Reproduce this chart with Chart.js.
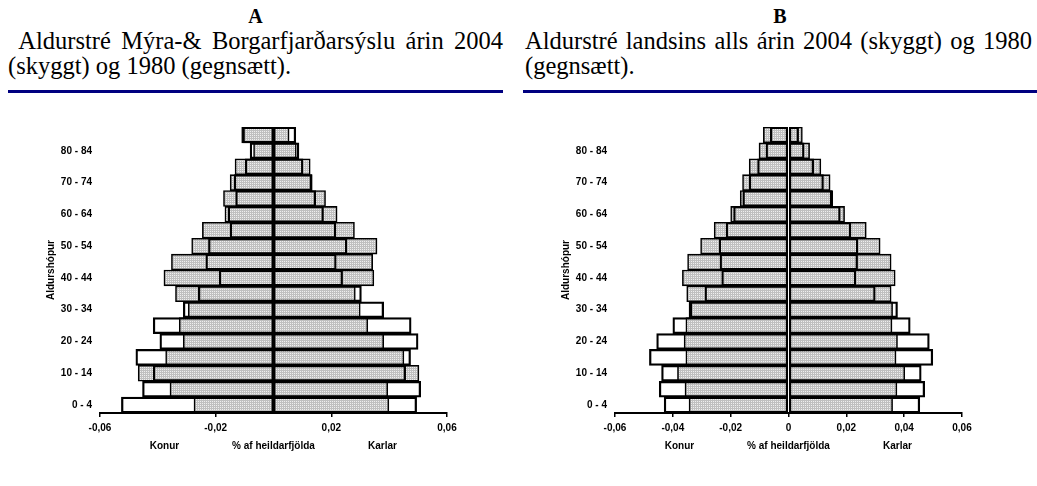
<!DOCTYPE html>
<html>
<head>
<meta charset="utf-8">
<script src="https://cdn.jsdelivr.net/npm/chart.js@4.4.1/dist/chart.umd.min.js"></script>
<style>
  body { margin: 0; width: 1037px; height: 486px; background: #fff; position: relative; overflow: hidden; }
  .head { position: absolute; top: 4px; font-family: "Liberation Serif", "Times New Roman", serif; color: #000; border-bottom: 3px solid #000080; padding-bottom: 12px; }
  .head .letter { text-align: center; font-weight: bold; font-size: 20px; line-height: 24px; }
  .head .txt { font-size: 24.5px; line-height: 25px; text-align: justify; }
  #headA { left: 8px; width: 495px; }
  #headB { left: 523px; width: 514px; }
  #headB .txt { padding-left: 2px; padding-right: 5px; }
  .wrap { position: absolute; top: 105px; width: 515px; height: 381px; }
  #wrapA { left: 0; }
  #wrapB { left: 515px; }
</style>
</head>
<body>
<div class="head" id="headA">
  <div class="letter">A</div>
  <div class="txt">&nbsp;Aldurstré Mýra-&amp; Borgarfjarðarsýslu árin 2004 (skyggt) og 1980 (gegnsætt).</div>
</div>
<div class="head" id="headB">
  <div class="letter">B</div>
  <div class="txt">Aldurstré landsins alls árin 2004 (skyggt) og 1980 (gegnsætt).</div>
</div>
<div class="wrap" id="wrapA"><canvas id="chartA" width="515" height="381"></canvas></div>
<div class="wrap" id="wrapB"><canvas id="chartB" width="515" height="381"></canvas></div>

<script>
// age groups, bottom to top
const ageGroups = ["0 - 4", "5 - 9", "10 - 14", "15 - 19", "20 - 24", "25 - 29", "30 - 34", "35 - 39",
  "40 - 44", "45 - 49", "50 - 54", "55 - 59", "60 - 64", "65 - 69", "70 - 74", "75 - 79", "80 - 84", "85 +"];

// A: Mýra- & Borgarfjarðarsýsla (share of total population)
const womenA2004 = [0.0275, 0.0358, 0.0468, 0.0373, 0.0312, 0.0326, 0.0295, 0.0339, 0.0379, 0.0353, 0.0283, 0.0246, 0.0168, 0.0173, 0.0150, 0.0133, 0.0069, 0.0110];
const womenA1980 = [0.0526, 0.0453, 0.0416, 0.0476, 0.0393, 0.0416, 0.0312, 0.0260, 0.0188, 0.0234, 0.0225, 0.0150, 0.0157, 0.0131, 0.0136, 0.0098, 0.0081, 0.0106];
const menA2004 = [0.0399, 0.0395, 0.0503, 0.0451, 0.0381, 0.0326, 0.0300, 0.0283, 0.0347, 0.0343, 0.0358, 0.0280, 0.0220, 0.0180, 0.0134, 0.0127, 0.0079, 0.0054];
const menA1980 = [0.0495, 0.0509, 0.0457, 0.0474, 0.0500, 0.0476, 0.0381, 0.0304, 0.0239, 0.0217, 0.0254, 0.0216, 0.0173, 0.0146, 0.0132, 0.0102, 0.0088, 0.0077];

// B: landið allt
const womenB2004 = [0.0344, 0.0358, 0.0384, 0.0355, 0.0361, 0.0355, 0.0344, 0.0352, 0.0367, 0.0349, 0.0304, 0.0257, 0.0200, 0.0167, 0.0159, 0.0136, 0.0102, 0.0087];
const womenB1980 = [0.0430, 0.0447, 0.0439, 0.0481, 0.0456, 0.0400, 0.0340, 0.0289, 0.0231, 0.0237, 0.0240, 0.0216, 0.0190, 0.0158, 0.0136, 0.0107, 0.0078, 0.0063];
const menB2004 = [0.0360, 0.0375, 0.0402, 0.0372, 0.0377, 0.0358, 0.0360, 0.0355, 0.0369, 0.0355, 0.0317, 0.0269, 0.0194, 0.0153, 0.0144, 0.0112, 0.0073, 0.0048];
const menB1980 = [0.0454, 0.0471, 0.0459, 0.0499, 0.0487, 0.0421, 0.0377, 0.0300, 0.0233, 0.0239, 0.0240, 0.0216, 0.0179, 0.0150, 0.0121, 0.0087, 0.0054, 0.0035];

// x tick values
const ticksA = [-0.06, -0.02, 0.02, 0.06];
const ticksB = [-0.06, -0.04, -0.02, 0, 0.02, 0.04, 0.06];

const axisFont = { family: "'Liberation Sans', Arial, sans-serif", size: 10, weight: "bold" };

function dotPattern() {
  const c = document.createElement("canvas");
  c.width = 2; c.height = 2;
  const g = c.getContext("2d");
  g.fillStyle = "#c0c0c0";
  g.fillRect(0, 0, 2, 2);
  g.fillStyle = "#efefef";
  g.fillRect(0, 0, 1, 1);
  return g.createPattern(c, "repeat");
}

// Konur / Karlar under the axis
const sideLabels = {
  id: "sideLabels",
  afterDraw(chart) {
    const ctx = chart.ctx;
    const x = chart.scales.x;
    ctx.save();
    ctx.font = "bold 10px 'Liberation Sans', Arial, sans-serif";
    ctx.fillStyle = "#000";
    ctx.textAlign = "center";
    ctx.textBaseline = "middle";
    const y = x.bottom - 12;
    ctx.fillText("Konur", x.getPixelForValue(-0.0377), y);
    ctx.fillText("Karlar", x.getPixelForValue(0.0377), y);
    ctx.restore();
  }
};

function createPyramid(id, women2004, men2004, women1980, men1980, tickValues) {
  const ctx = document.getElementById(id).getContext("2d");
  const shade = dotPattern();
  const common = {
    borderColor: "#000",
    borderWidth: 1.6,
    borderSkipped: false,
    barPercentage: 1,
    categoryPercentage: 1,
    grouped: false,
  };
  return new Chart(ctx, {
    type: "bar",
    data: {
      labels: ageGroups,
      datasets: [
        { label: "Konur 1980", data: women1980.map(v => -v), backgroundColor: "rgba(0,0,0,0)", order: 0, ...common },
        { label: "Karlar 1980", data: men1980, backgroundColor: "rgba(0,0,0,0)", order: 0, ...common },
        { label: "Konur 2004", data: women2004.map(v => -v), backgroundColor: shade, order: 1, ...common },
        { label: "Karlar 2004", data: men2004, backgroundColor: shade, order: 1, ...common },
      ],
    },
    options: {
      indexAxis: "y",
      responsive: false,
      animation: false,
      events: [],
      layout: { padding: { left: 42, right: 68, top: 22, bottom: 28 } },
      plugins: { legend: { display: false }, tooltip: { enabled: false } },
      scales: {
        x: {
          min: -0.06,
          max: 0.06,
          afterBuildTicks: (scale) => { scale.ticks = tickValues.map(v => ({ value: v })); },
          afterFit: (scale) => { scale.height = 45; },
          grid: { display: true, drawOnChartArea: false, drawTicks: true, tickLength: 4, color: "#000", lineWidth: 1.5 },
          border: { display: true, color: "#000", width: 2 },
          ticks: {
            padding: 5,
            color: "#000",
            font: axisFont,
            maxRotation: 0,
            autoSkip: false,
            callback: (v) => v === 0 ? "0" : v.toFixed(2).replace(".", ","),
          },
          title: { display: true, text: "% af heildarfjölda", color: "#000", font: axisFont, padding: { top: 0, bottom: 6 } },
        },
        y: {
          reverse: true,
          afterFit: (scale) => { scale.width = 58; },
          grid: { display: false, drawTicks: false },
          border: { display: false },
          ticks: {
            autoSkip: false,
            padding: 8,
            color: "#000",
            font: axisFont,
            callback: (v, i) => i % 2 === 0 ? ageGroups[i] : "",
          },
          title: { display: true, text: "Aldurshópur", color: "#000", font: axisFont, padding: { top: 3, bottom: 0 } },
        },
      },
    },
    plugins: [sideLabels],
  });
}

createPyramid("chartA", womenA2004, menA2004, womenA1980, menA1980, ticksA);
createPyramid("chartB", womenB2004, menB2004, womenB1980, menB1980, ticksB);
</script>
</body>
</html>
